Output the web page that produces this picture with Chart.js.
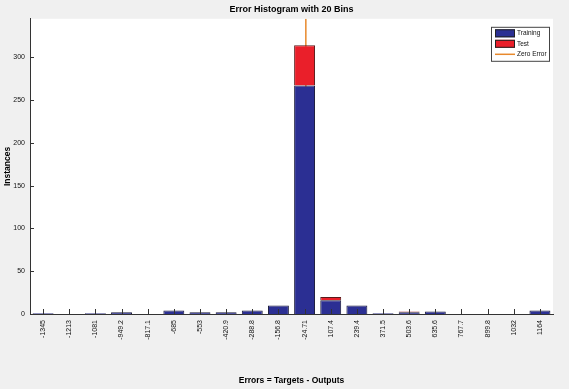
<!DOCTYPE html>
<html>
<head>
<meta charset="utf-8">
<script src="https://cdn.jsdelivr.net/npm/chart.js@4"></script>
<style>
  html, body { margin: 0; padding: 0; background: #f0f0f0; }
  #wrap { width: 569px; height: 389px; position: relative; }
</style>
</head>
<body>
<div id="wrap"><canvas id="histChart" width="569" height="389"></canvas></div>
<script>
// ===== Data =====
const binCenters = ['-1345', '-1213', '-1081', '-949.2', '-817.1', '-685', '-553', '-420.9', '-288.8', '-156.8',
                    '-24.71', '107.4', '239.4', '371.5', '503.6', '635.6', '767.7', '899.8', '1032', '1164'];
const trainingCounts = [1, 0, 1, 2, 0, 4, 2, 2, 4, 10, 267, 16, 10, 1, 2, 3, 0, 0, 0, 4];
const testCounts     = [0, 0, 0, 0, 0, 0, 0, 0, 0, 0, 47, 4, 0, 0, 1, 0, 0, 0, 0, 0];
const yTicks = [0, 50, 100, 150, 200, 250, 300];
const yMax = 345;
const zeroError = 0;

const binWidth = (parseFloat(binCenters[binCenters.length - 1]) - parseFloat(binCenters[0])) / (binCenters.length - 1);

const BLUE = '#2b2f93';
const RED = '#ea1f2a';
const ORANGE = '#e8892c';
const FONT = '"Liberation Sans", Arial, sans-serif';

// plot area white + inner tick marks + legend box
const matlabLook = {
    id: 'matlabLook',
    beforeDraw(chart) {
        const { ctx, chartArea: a } = chart;
        ctx.save();
        ctx.fillStyle = '#ffffff';
        ctx.fillRect(a.left, a.top, a.right - a.left, a.bottom - a.top);
        ctx.restore();
    },
    afterDraw(chart) {
        const { ctx, chartArea: a, scales } = chart;
        ctx.save();
        ctx.strokeStyle = '#333';
        ctx.lineWidth = 1;
        ctx.beginPath();
        scales.x.ticks.forEach((t, i) => {
            const px = Math.round(scales.x.getPixelForTick(i)) + 0.5;
            ctx.moveTo(px, a.bottom);
            ctx.lineTo(px, a.bottom - 5);
        });
        yTicks.forEach(v => {
            const py = Math.round(scales.y.getPixelForValue(v)) + 0.5;
            ctx.moveTo(a.left, py);
            ctx.lineTo(a.left + 4, py);
        });
        ctx.stroke();

        // legend
        const lx = a.right - 62, ly = a.top + 8, lw = 58, lh = 34;
        ctx.fillStyle = '#fff';
        ctx.fillRect(lx, ly, lw, lh);
        ctx.strokeStyle = '#444';
        ctx.strokeRect(lx + 0.5, ly + 0.5, lw, lh);
        const items = [
            { label: 'Training', kind: 'box', color: BLUE },
            { label: 'Test', kind: 'box', color: RED },
            { label: 'Zero Error', kind: 'line', color: ORANGE }
        ];
        ctx.font = '6.5px ' + FONT;
        ctx.textBaseline = 'middle';
        items.forEach((it, i) => {
            const cy = ly + 6.5 + i * 10.5;
            if (it.kind === 'box') {
                ctx.fillStyle = it.color;
                ctx.fillRect(lx + 4, cy - 4, 20, 8);
                ctx.strokeStyle = '#222';
                ctx.strokeRect(lx + 4.5, cy - 3.5, 19, 7);
            } else {
                ctx.strokeStyle = it.color;
                ctx.lineWidth = 1.5;
                ctx.beginPath();
                ctx.moveTo(lx + 4, cy);
                ctx.lineTo(lx + 24, cy);
                ctx.stroke();
                ctx.lineWidth = 1;
            }
            ctx.fillStyle = '#111';
            ctx.fillText(it.label, lx + 26, cy);
        });
        ctx.restore();
    }
};

const ctx = document.getElementById('histChart').getContext('2d');
new Chart(ctx, {
    type: 'bar',
    data: {
        labels: binCenters,
        datasets: [
            {
                label: 'Training',
                data: trainingCounts,
                backgroundColor: BLUE,
                borderColor: '#1a1a3a',
                borderWidth: 1,
                barPercentage: 0.8,
                categoryPercentage: 1.0,
                grouped: false,
                stack: 'err'
            },
            {
                label: 'Test',
                data: testCounts,
                backgroundColor: RED,
                borderColor: '#5a1a1a',
                borderWidth: 1,
                barPercentage: 0.8,
                categoryPercentage: 1.0,
                grouped: false,
                stack: 'err'
            },
            {
                type: 'line',
                label: 'Zero Error',
                data: [{ x: zeroError, y: 0 }, { x: zeroError, y: yMax }],
                xAxisID: 'x2',
                borderColor: ORANGE,
                borderWidth: 1.5,
                pointRadius: 0,
                stack: 'zero'
            }
        ]
    },
    options: {
        responsive: false,
        animation: false,
        layout: { padding: { top: 0, right: 16, bottom: 0, left: 0 } },
        plugins: {
            legend: { display: false },
            tooltip: { enabled: false },
            title: {
                display: true,
                fullSize: false,
                text: 'Error Histogram with 20 Bins',
                color: '#000',
                font: { family: FONT, size: 9, weight: 'bold' },
                padding: { top: 4, bottom: 4 }
            }
        },
        scales: {
            x: {
                stacked: true,
                offset: true,
                grid: { display: false, drawTicks: false },
                border: { display: true, color: '#333' },
                ticks: {
                    color: '#111',
                    autoSkip: false,
                    minRotation: 90,
                    maxRotation: 90,
                    padding: 6,
                    font: { family: FONT, size: 7 }
                },
                title: {
                    display: true,
                    text: 'Errors = Targets - Outputs',
                    color: '#000',
                    font: { family: FONT, size: 8.5, weight: 'bold' },
                    padding: { top: 0, bottom: 3 }
                },
                afterFit(s) { s.height = 75; }
            },
            x2: {
                type: 'linear',
                display: false,
                min: parseFloat(binCenters[0]) - binWidth / 2,
                max: parseFloat(binCenters[binCenters.length - 1]) + binWidth / 2
            },
            y: {
                stacked: true,
                min: 0,
                max: yMax,
                grid: { display: false, drawTicks: false },
                border: { display: true, color: '#333' },
                afterBuildTicks(s) { s.ticks = yTicks.map(v => ({ value: v })); },
                ticks: {
                    color: '#111',
                    padding: 5,
                    font: { family: FONT, size: 7 }
                },
                title: {
                    display: true,
                    text: 'Instances',
                    color: '#000',
                    font: { family: FONT, size: 8.5, weight: 'bold' },
                    padding: { top: 3, bottom: 0 }
                },
                afterFit(s) { s.width = 30; }
            }
        }
    },
    plugins: [matlabLook]
});
</script>
</body>
</html>
